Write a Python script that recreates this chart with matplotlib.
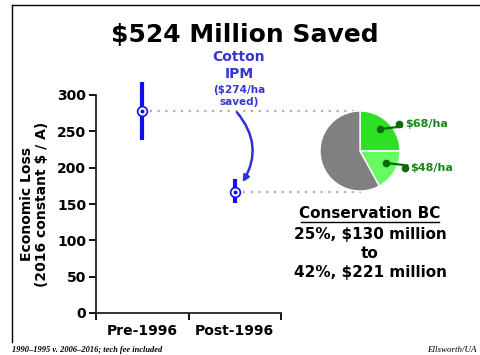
import numpy as np
import matplotlib
matplotlib.use('Agg')
import matplotlib.pyplot as plt
from matplotlib.lines import Line2D

# data
periods = ['Pre-1996', 'Post-1996']
loss_mean = [278, 167]
loss_low = [238, 151]
loss_high = [318, 184]
yticks = [0, 50, 100, 150, 200, 250, 300]

pie_labels = ['$68/ha', '$48/ha', '']
pie_pct = [25, 42 - 25, 100 - 42]
pie_colors = ['#2ee025', '#66fb60', '#808080']

W, H = 480, 355
fig = plt.figure(figsize=(W / 100, H / 100), dpi=100)
plt.rcParams['font.family'] = 'DejaVu Sans'

def fx(px):
    return px / W

def fy(py):
    return 1 - py / H

# frame lines (top and left)
fig.add_artist(Line2D([fx(12), 1.0], [fy(5), fy(5)], color='k', lw=1))
fig.add_artist(Line2D([fx(12), fx(12)], [fy(5), fy(342)], color='k', lw=1))

ax = fig.add_axes([fx(96), fy(313), fx(281) - fx(96), fy(95) - fy(313)])
xpos = np.array([0.5, 1.5])
mean = np.array(loss_mean)
yerr = [mean - np.array(loss_low), np.array(loss_high) - mean]

blue = '#1010ee'
# dotted guide lines out to the pie
ax.plot([xpos[0], 2.85], [loss_mean[0], loss_mean[0]], color='#b0b0b0', ls=(0, (1, 2.5)), lw=1.6, clip_on=False, zorder=1)
ax.plot([xpos[1], 2.87], [loss_mean[1], loss_mean[1]], color='#b0b0b0', ls=(0, (1, 2.5)), lw=1.6, clip_on=False, zorder=1)

ax.errorbar(xpos, mean, yerr=yerr, fmt='o', color=blue, ecolor=blue, elinewidth=3,
            capsize=0, ms=7, mfc='white', mec=blue, mew=1.2, clip_on=False, zorder=3)
ax.plot(xpos, mean, 'o', color=blue, ms=1.8, clip_on=False, zorder=4)

ax.set_xlim(0, 2)
ax.set_ylim(0, 300)
ax.set_yticks(yticks)
ax.set_xticks([0, 1, 2])
ax.set_xticklabels([])
ax.set_xticks(xpos, minor=True)
ax.set_xticklabels(periods, minor=True, fontsize=10, fontweight='bold')
ax.tick_params(axis='x', which='minor', length=0, pad=8)
ax.tick_params(axis='x', which='major', length=5, width=1.3, direction='out')
ax.tick_params(axis='y', length=5, width=1.3, labelsize=10, pad=2)
for lab in ax.get_yticklabels():
    lab.set_fontweight('bold')
for s in ['top', 'right']:
    ax.spines[s].set_visible(False)
for s in ['left', 'bottom']:
    ax.spines[s].set_linewidth(1.3)
    ax.spines[s].set_color('#222222')
ax.set_ylabel('Economic Loss\n(2016 constant $ / A)', fontsize=10, fontweight='bold', labelpad=6, linespacing=1.1)

# curved arrow from the IPM note down to the post-1996 point
ax.annotate('', xy=(1.585, 180), xytext=(1.525, 276),
            arrowprops=dict(arrowstyle='-|>', color='#3030d8', lw=1.8,
                            connectionstyle='arc3,rad=-0.35', mutation_scale=9,
                            shrinkA=0, shrinkB=0))

note = '#3535d5'
fig.text(fx(239), fy(57), 'Cotton', ha='center', va='center', color=note, fontsize=10, fontweight='bold')
fig.text(fx(239), fy(74), 'IPM', ha='center', va='center', color=note, fontsize=10, fontweight='bold')
fig.text(fx(239), fy(90), '($274/ha', ha='center', va='center', color=note, fontsize=7.5, fontweight='bold')
fig.text(fx(239), fy(102), 'saved)', ha='center', va='center', color=note, fontsize=7.5, fontweight='bold')

fig.text(fx(245), fy(35), '$524 Million Saved', ha='center', va='center', fontsize=18, fontweight='bold')

# pie of conservation biocontrol share
pax = fig.add_axes([fx(320), fy(191), fx(80), 80 / H])
wedges, _ = pax.pie(pie_pct, colors=pie_colors, startangle=90, counterclock=False,
                    wedgeprops=dict(edgecolor='white', linewidth=1))
pax.set_xlim(-1, 1)
pax.set_ylim(-1, 1)
pax.set_aspect('equal')
green = '#138a13'
pax.annotate(pie_labels[0], xy=(0.5, 0.55), xytext=(1.12, 0.68), color=green,
             fontsize=8, fontweight='bold', va='center', annotation_clip=False,
             arrowprops=dict(arrowstyle='-', color='#0b6b0b', lw=1.6, shrinkA=0, shrinkB=0))
pax.plot([0.5, 0.98], [0.55, 0.68], 'o', color='#0b6b0b', ms=4.5, clip_on=False)
pax.annotate(pie_labels[1], xy=(0.65, -0.3), xytext=(1.26, -0.43), color=green,
             fontsize=8, fontweight='bold', va='center', annotation_clip=False,
             arrowprops=dict(arrowstyle='-', color='#0b6b0b', lw=1.6, shrinkA=0, shrinkB=0))
pax.plot([0.65, 1.12], [-0.3, -0.43], 'o', color='#0b6b0b', ms=4.5, clip_on=False)

fig.text(fx(370), fy(214), 'Conservation BC', ha='center', va='center', fontsize=11, fontweight='bold')
fig.add_artist(Line2D([fx(301), fx(439)], [fy(222), fy(222)], color='k', lw=1))
fig.text(fx(370), fy(234), '25%, $130 million', ha='center', va='center', fontsize=11, fontweight='bold')
fig.text(fx(370), fy(253), 'to', ha='center', va='center', fontsize=11, fontweight='bold')
fig.text(fx(370), fy(273), '42%, $221 million', ha='center', va='center', fontsize=11, fontweight='bold')

fig.text(fx(12), fy(350), '1990\u20131995 v. 2006\u20132016; tech fee included', ha='left', va='center',
         fontsize=6, style='italic', fontweight='bold', family='Liberation Serif')
fig.text(fx(477), fy(350), 'Ellsworth/UA', ha='right', va='center',
         fontsize=6.5, style='italic', family='Liberation Serif')

fig.savefig('out.png', dpi=100)
